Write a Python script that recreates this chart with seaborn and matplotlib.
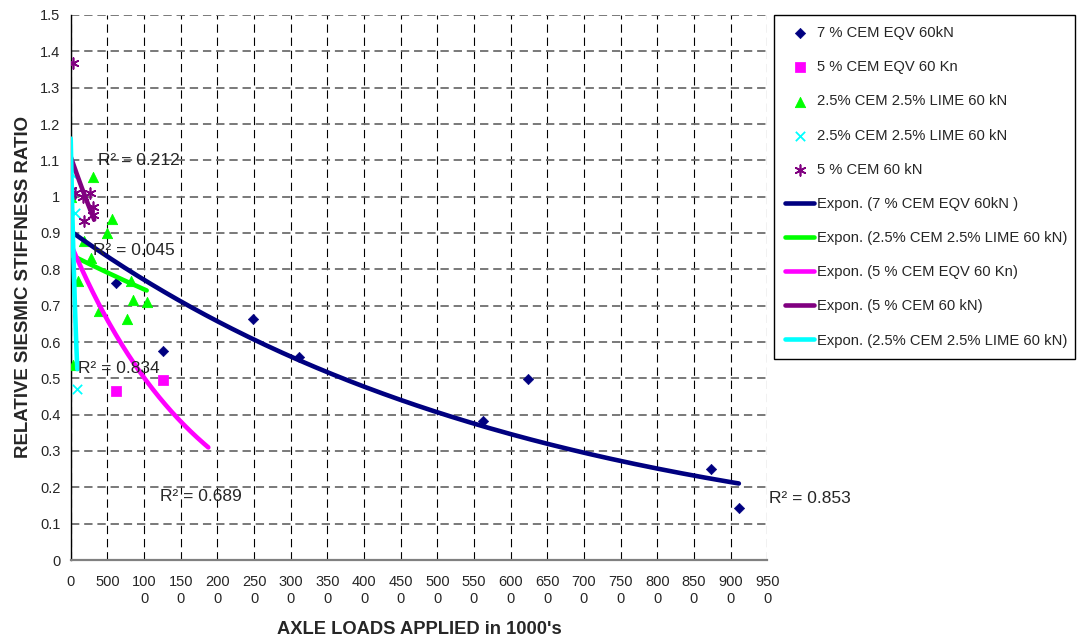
import numpy as np
import matplotlib.pyplot as plt
import seaborn as sns

sns.set_style("white")
plt.rcParams['font.family'] = ['Liberation Sans', 'DejaVu Sans']
plt.rcParams['lines.scale_dashes'] = False

# scatter data
navy_x = [0, 618, 1254, 2490, 3117, 5622, 6238, 8730, 9112]
navy_y = [1.0, 0.762, 0.576, 0.663, 0.560, 0.383, 0.498, 0.250, 0.143]

pink_x = [618, 1254]
pink_y = [0.466, 0.495]

green_x = [0, 36, 104, 181, 273, 308, 390, 491, 559, 764, 818, 845, 1036]
green_y = [1.0, 0.538, 0.769, 0.879, 0.830, 1.055, 0.685, 0.899, 0.938, 0.663, 0.767, 0.716, 0.711]

cyan_x = [0, 59, 90]
cyan_y = [1.065, 0.954, 0.470]

purple_x = [0, 30, 59, 164, 181, 263, 308, 308]
purple_y = [1.018, 1.368, 1.009, 1.0, 0.934, 1.009, 0.972, 0.950]

# exponential trendlines y = a*exp(b*x), as drawn
trend_a = [0.905, 0.84, 0.87, 1.11, 1.16]
trend_b = [-1.60e-4, -1.2e-4, -5.5e-4, -5.3e-4, -8.8e-3]
trend_end = [9112, 1036, 1877, 320, 90]
trend_names = ['Expon. (7 % CEM EQV 60kN )',
               'Expon. (2.5% CEM 2.5% LIME 60 kN)',
               'Expon. (5 % CEM EQV 60 Kn)',
               'Expon. (5 % CEM 60 kN)',
               'Expon. (2.5% CEM 2.5% LIME 60 kN)']
trend_colors = ['#000080', '#00FF00', '#FF00FF', '#800080', '#00FFFF']

r2_text = ['R² = 0.212', 'R² = 0.045', 'R² = 0.834', 'R² = 0.689', 'R² = 0.853']
r2_x = [372, 304, 100, 1218, 9523]
r2_y = [1.10, 0.853, 0.528, 0.176, 0.168]

W, H = 1078, 641
fig = plt.figure(figsize=(W / 100, H / 100), dpi=100)
ax = fig.add_axes([70.7 / W, 81 / H, 696.6 / W, 545 / H])

sns.scatterplot(x=navy_x, y=navy_y, ax=ax, marker='D', color='#000080', s=28,
                edgecolor='#000080', label='7 % CEM EQV 60kN', zorder=3)
sns.scatterplot(x=pink_x, y=pink_y, ax=ax, marker='s', color='#FF00FF', s=45,
                edgecolor='#FF00FF', label='5 % CEM EQV 60 Kn', zorder=3)
sns.scatterplot(x=green_x, y=green_y, ax=ax, marker='^', color='#00FF00', s=55,
                edgecolor='#00FF00', label='2.5% CEM 2.5% LIME 60 kN', zorder=3)
sns.scatterplot(x=cyan_x, y=cyan_y, ax=ax, marker='x', color='#00FFFF', s=45,
                linewidth=1.3, label='2.5% CEM 2.5% LIME 60 kN', zorder=3)
sns.scatterplot(x=purple_x, y=purple_y, ax=ax, marker=(6, 2, 0), color='#800080', s=60,
                linewidth=1.2, label='5 % CEM 60 kN', zorder=3)

for a, b, xe, name, c in zip(trend_a, trend_b, trend_end, trend_names, trend_colors):
    xs = np.linspace(0, xe, 200)
    sns.lineplot(x=xs, y=a * np.exp(b * xs), ax=ax, color=c, lw=3.3,
                 label=name, sort=False, zorder=4)

for t, x, y in zip(r2_text, r2_x, r2_y):
    ax.text(x, y, t, fontsize=12.5, va='center', ha='left', zorder=5)

ax.set_xlim(0, 9500)
ax.set_ylim(0, 1.5)
xt = list(range(0, 9501, 500))
ax.set_xticks(xt)
ax.set_xticklabels([str(v) if len(str(v)) <= 3 else str(v)[:3] + '\n' + str(v)[3:] for v in xt],
                   fontsize=10.5, linespacing=1.25)
yt = np.round(np.arange(0, 1.51, 0.1), 1)
ax.set_yticks(yt)
ax.set_yticklabels([f'{v:g}' for v in yt], fontsize=10.5)

ax.grid(axis='x', ls=(0, (6, 3.5)), color='black', lw=0.8)
ax.grid(axis='y', ls=(0, (6, 3.5)), color='#6e6e6e', lw=1.3)
ax.set_axisbelow(True)

for s in ['top', 'right']:
    ax.spines[s].set_visible(False)
ax.spines['left'].set_color('black')
ax.spines['left'].set_linewidth(1)
ax.spines['bottom'].set_color('#808080')
ax.spines['bottom'].set_linewidth(1.6)
ax.tick_params(axis='x', direction='inout', length=9, width=1, color='black', pad=6.5)
ax.tick_params(axis='y', direction='out', length=5, width=1, color='black', pad=2.5)

fig.text(419 / W, 1 - 630 / H, "AXLE LOADS APPLIED in 1000's", fontsize=13.2,
         fontweight='bold', ha='center', va='center')
fig.text(24 / W, 1 - 287 / H, 'RELATIVE SIESMIC STIFFNESS RATIO', fontsize=13.4,
         fontweight='bold', ha='center', va='center', rotation=90)

leg = ax.legend(loc='upper left', bbox_to_anchor=(774 / W, 1 - 359 / H, 301 / W, 344 / H),
                bbox_transform=fig.transFigure, mode='expand', fontsize=10.6,
                frameon=True, fancybox=False, edgecolor='black', framealpha=1,
                labelspacing=1.37, handlelength=2.0, handletextpad=0.2,
                borderpad=0.75, borderaxespad=0)
leg.get_frame().set_linewidth(1)

fig.savefig('out.png', dpi=100)
